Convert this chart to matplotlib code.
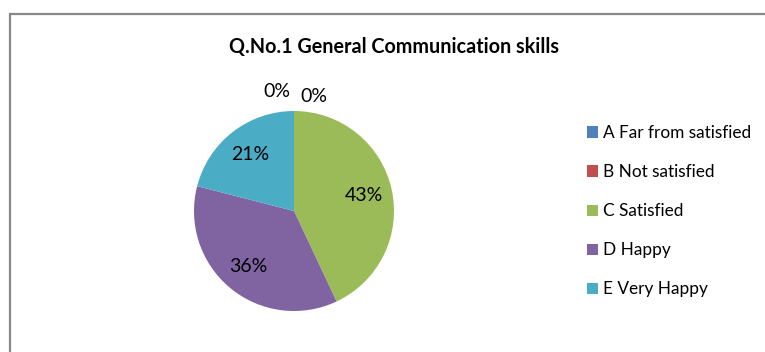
import matplotlib
matplotlib.use("Agg")
import matplotlib.pyplot as plt
from matplotlib.patches import Rectangle

plt.rcParams['font.family'] = ['Lato', 'DejaVu Sans']

title = "Q.No.1 General Communication skills"
categories = ["A Far from satisfied", "B Not satisfied", "C Satisfied", "D Happy", "E Very Happy"]
values = [0, 0, 43, 36, 21]
colors = ["#4F81BD", "#C0504D", "#9BBB59", "#8064A2", "#4BACC6"]

W, H = 765, 352
fig = plt.figure(figsize=(W / 100, H / 100), dpi=100)

# chart border (left and top visible)
fig.patches.append(Rectangle((9.5 / W, -0.05), 1.1, (H - 14) / H + 0.05, transform=fig.transFigure,
                             fill=False, edgecolor="#888888", linewidth=1.6))

ax = fig.add_axes([194 / W, (H - 311) / H, 200 / W, 200 / H])
wedges, texts, autotexts = ax.pie(values, colors=colors, startangle=90, counterclock=False,
                                  autopct=lambda p: f"{p:.0f}%", pctdistance=0.72,
                                  textprops=dict(fontsize=14, color="#000000"),
                                  wedgeprops=dict(linewidth=0))
# zero-value labels sit above the pie
zero_pos = [(-0.17, 1.2), (0.2, 1.15)]
k = 0
for v, t in zip(values, autotexts):
    if v == 0:
        t.set_position(zero_pos[k])
        k += 1
ax.set_xlim(-1, 1)
ax.set_ylim(-1, 1)
ax.set_aspect("equal")

fig.text(394 / W, 1 - 47 / H, title, ha="center", va="center", fontsize=14.2, fontweight="bold")

leg = fig.legend(wedges, categories, loc="upper left", bbox_to_anchor=(587 / W, 1 - 125 / H),
                 frameon=False, fontsize=12.4, handlelength=0.62, handleheight=0.62,
                 handletextpad=0.3, labelspacing=1.34, borderaxespad=0, borderpad=0)

fig.savefig("out.png", dpi=100)
